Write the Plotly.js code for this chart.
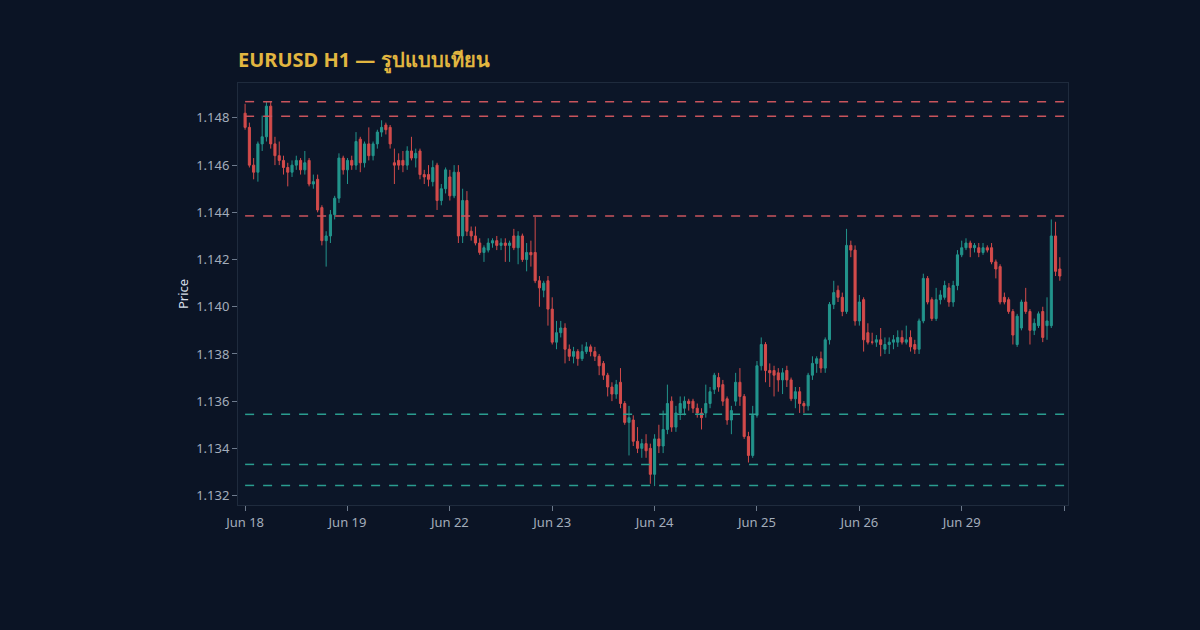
<!DOCTYPE html>
<html>
<head>
<meta charset="utf-8">
<script src="https://cdn.plot.ly/plotly-3.0.1.min.js"></script>
<style>
  html, body { margin: 0; padding: 0; background: #0b1424; }
  #chart { width: 1200px; height: 630px; }
</style>
</head>
<body>
<div id="chart"></div>
<script>
// trading days shown (weekend skipped), 24 hourly candles each
const days = ['2020-06-18', '2020-06-19', '2020-06-22', '2020-06-23', '2020-06-24', '2020-06-25', '2020-06-26', '2020-06-29'];
const dayLabels = ['Jun 18', 'Jun 19', 'Jun 22', 'Jun 23', 'Jun 24', 'Jun 25', 'Jun 26', 'Jun 29'];

// OHLC, one row per day
const open = [
    1.1482,1.1476,1.1460,1.1457,1.1469,1.1472,1.1485,1.1469,1.1464,1.1462,1.1459,1.1457,1.1460,1.1462,1.1458,1.1462,1.1452,1.1454,1.1442,1.1428,1.1430,1.1439,1.1446,1.1463,
    1.1458,1.1462,1.1460,1.1471,1.1461,1.1469,1.1464,1.1469,1.1474,1.1477,1.1476,1.1461,1.1462,1.1462,1.1460,1.1466,1.1463,1.1466,1.1456,1.1456,1.1453,1.1460,1.1445,1.1450,
    1.1455,1.1447,1.1457,1.1430,1.1445,1.1432,1.1430,1.1427,1.1423,1.1424,1.1427,1.1428,1.1426,1.1427,1.1426,1.1430,1.1425,1.1430,1.1420,1.1423,1.1423,1.1411,1.1407,1.1411,
    1.1399,1.1385,1.1389,1.1391,1.1382,1.1379,1.1381,1.1378,1.1381,1.1383,1.1381,1.1379,1.1376,1.1371,1.1366,1.1363,1.1368,1.1359,1.1351,1.1352,1.1343,1.1340,1.1342,1.1340,
    1.1329,1.1344,1.1341,1.1348,1.1360,1.1349,1.1355,1.1357,1.1360,1.1360,1.1357,1.1355,1.1355,1.1359,1.1365,1.1370,1.1367,1.1361,1.1352,1.1360,1.1368,1.1362,1.1345,1.1337,
    1.1354,1.1375,1.1384,1.1373,1.1373,1.1372,1.1369,1.1373,1.1369,1.1361,1.1364,1.1359,1.1358,1.1371,1.1376,1.1378,1.1374,1.1386,1.1401,1.1407,1.1404,1.1398,1.1426,1.1424,
    1.1394,1.1403,1.1389,1.1385,1.1385,1.1386,1.1382,1.1384,1.1385,1.1385,1.1387,1.1385,1.1387,1.1384,1.1382,1.1394,1.1412,1.1403,1.1395,1.1403,1.1404,1.1408,1.1402,1.1409,
    1.1422,1.1425,1.1427,1.1425,1.1425,1.1423,1.1425,1.1425,1.1419,1.1417,1.1404,1.1403,1.1398,1.1384,1.1391,1.1402,1.1398,1.1390,1.1392,1.1398,1.1392,1.1392,1.1430,1.1416
];
const high = [
    1.1486,1.1478,1.1463,1.1470,1.1481,1.1487,1.1487,1.1472,1.1470,1.1464,1.1461,1.1462,1.1464,1.1463,1.1466,1.1463,1.1456,1.1456,1.1443,1.1432,1.1441,1.1447,1.1465,1.1464,
    1.1463,1.1464,1.1474,1.1472,1.1470,1.1476,1.1470,1.1475,1.1479,1.1478,1.1477,1.1467,1.1465,1.1466,1.1468,1.1472,1.1467,1.1467,1.1458,1.1460,1.1462,1.1461,1.1452,1.1459,
    1.1458,1.1460,1.1460,1.1450,1.1449,1.1434,1.1434,1.1429,1.1426,1.1429,1.1429,1.1430,1.1429,1.1429,1.1428,1.1433,1.1432,1.1431,1.1427,1.1428,1.1438,1.1413,1.1411,1.1413,
    1.1404,1.1394,1.1394,1.1393,1.1384,1.1383,1.1382,1.1384,1.1385,1.1384,1.1383,1.1380,1.1377,1.1372,1.1368,1.1369,1.1374,1.1360,1.1358,1.1354,1.1349,1.1344,1.1346,1.1342,
    1.1346,1.1350,1.1356,1.1367,1.1362,1.1358,1.1362,1.1362,1.1361,1.1361,1.1359,1.1357,1.1367,1.1366,1.1372,1.1372,1.1369,1.1362,1.1358,1.1372,1.1374,1.1363,1.1347,1.1358,
    1.1377,1.1387,1.1385,1.1376,1.1375,1.1374,1.1374,1.1375,1.1370,1.1366,1.1366,1.1360,1.1372,1.1379,1.1379,1.1381,1.1387,1.1402,1.1411,1.1409,1.1406,1.1433,1.1428,1.1426,
    1.1405,1.1404,1.1393,1.1389,1.1388,1.1391,1.1387,1.1387,1.1388,1.1390,1.1390,1.1392,1.1390,1.1386,1.1395,1.1414,1.1413,1.1404,1.1408,1.1407,1.1411,1.1410,1.1411,1.1424,
    1.1428,1.1429,1.1428,1.1427,1.1427,1.1427,1.1426,1.1427,1.1420,1.1418,1.1406,1.1404,1.1399,1.1397,1.1403,1.1408,1.1399,1.1395,1.1398,1.1400,1.1404,1.1437,1.1436,1.1421
];
const low = [
    1.1475,1.1459,1.1454,1.1453,1.1466,1.1470,1.1467,1.1460,1.1460,1.1456,1.1451,1.1455,1.1458,1.1456,1.1456,1.1451,1.1450,1.1440,1.1426,1.1417,1.1427,1.1437,1.1444,1.1456,
    1.1452,1.1458,1.1458,1.1457,1.1459,1.1462,1.1462,1.1467,1.1472,1.1473,1.1467,1.1452,1.1458,1.1457,1.1458,1.1462,1.1459,1.1454,1.1452,1.1451,1.1451,1.1441,1.1443,1.1448,
    1.1445,1.1446,1.1427,1.1427,1.1430,1.1428,1.1426,1.1422,1.1419,1.1423,1.1425,1.1424,1.1424,1.1419,1.1419,1.1424,1.1418,1.1419,1.1415,1.1417,1.1410,1.1400,1.1404,1.1392,
    1.1384,1.1382,1.1387,1.1376,1.1377,1.1376,1.1375,1.1377,1.1380,1.1379,1.1377,1.1371,1.1369,1.1362,1.1360,1.1361,1.1357,1.1350,1.1337,1.1341,1.1338,1.1336,1.1336,1.1325,
    1.1324,1.1338,1.1338,1.1346,1.1347,1.1347,1.1352,1.1354,1.1356,1.1355,1.1353,1.1348,1.1353,1.1357,1.1363,1.1364,1.1358,1.1350,1.1346,1.1358,1.1358,1.1344,1.1334,1.1336,
    1.1353,1.1373,1.1368,1.1366,1.1362,1.1364,1.1363,1.1366,1.1360,1.1357,1.1355,1.1355,1.1356,1.1369,1.1372,1.1372,1.1372,1.1384,1.1399,1.1402,1.1396,1.1397,1.1421,1.1392,
    1.1392,1.1381,1.1384,1.1384,1.1383,1.1379,1.1380,1.1380,1.1382,1.1383,1.1384,1.1384,1.1381,1.1380,1.1380,1.1393,1.1401,1.1394,1.1394,1.1401,1.1403,1.1400,1.1400,1.1407,
    1.1421,1.1424,1.1421,1.1423,1.1421,1.1422,1.1423,1.1418,1.1412,1.1401,1.1401,1.1397,1.1384,1.1383,1.1390,1.1397,1.1384,1.1388,1.1391,1.1385,1.1386,1.1391,1.1413,1.1411
];
const close = [
    1.1476,1.1460,1.1457,1.1469,1.1472,1.1485,1.1469,1.1464,1.1462,1.1459,1.1457,1.1460,1.1462,1.1458,1.1461,1.1452,1.1453,1.1441,1.1428,1.1430,1.1439,1.1446,1.1463,1.1458,
    1.1462,1.1460,1.1470,1.1461,1.1469,1.1464,1.1469,1.1474,1.1476,1.1475,1.1469,1.1460,1.1460,1.1460,1.1466,1.1463,1.1465,1.1456,1.1455,1.1454,1.1459,1.1445,1.1450,1.1458,
    1.1447,1.1457,1.1430,1.1445,1.1432,1.1430,1.1427,1.1423,1.1425,1.1427,1.1428,1.1426,1.1427,1.1426,1.1427,1.1425,1.1430,1.1420,1.1423,1.1422,1.1411,1.1408,1.1410,1.1399,
    1.1385,1.1389,1.1391,1.1382,1.1379,1.1381,1.1378,1.1381,1.1383,1.1381,1.1379,1.1375,1.1371,1.1366,1.1363,1.1367,1.1359,1.1351,1.1353,1.1343,1.1340,1.1342,1.1339,1.1329,
    1.1344,1.1341,1.1348,1.1359,1.1349,1.1355,1.1359,1.1360,1.1359,1.1357,1.1355,1.1353,1.1359,1.1364,1.1371,1.1366,1.1360,1.1352,1.1356,1.1368,1.1362,1.1345,1.1337,1.1354,
    1.1375,1.1384,1.1373,1.1372,1.1371,1.1369,1.1372,1.1369,1.1361,1.1364,1.1359,1.1358,1.1371,1.1376,1.1378,1.1374,1.1386,1.1401,1.1406,1.1404,1.1398,1.1426,1.1424,1.1394,
    1.1402,1.1386,1.1385,1.1385,1.1386,1.1384,1.1384,1.1385,1.1386,1.1387,1.1385,1.1386,1.1383,1.1382,1.1394,1.1412,1.1402,1.1395,1.1403,1.1405,1.1409,1.1402,1.1409,1.1422,
    1.1425,1.1427,1.1425,1.1426,1.1423,1.1425,1.1424,1.1419,1.1416,1.1402,1.1402,1.1398,1.1388,1.1396,1.1402,1.1398,1.1390,1.1393,1.1397,1.1387,1.1394,1.1430,1.1415,1.1413
];

// key levels drawn as dashed lines
const resistance = [1.14869, 1.14807, 1.14385];
const support = [1.13544, 1.13332, 1.13243];

const COLORS = {
    up: '#26a69a',
    down: '#ef5350',
    res: '#c9545c',
    sup: '#2a9d8f',
    axis: '#1f2b3d',
    tick: '#a3adbb',
};

// hourly timestamps for each trading day
const times = [];
days.forEach(d => {
    for (let h = 0; h < 24; h++) times.push(`${d} ${String(h).padStart(2, '0')}:00`);
});

const levelShape = (y, color) => ({
    type: 'line', xref: 'x', yref: 'y',
    x0: times[0], x1: '2020-06-30 06:00', y0: y, y1: y,
    line: { color: color, width: 1.5, dash: 'dash' },
});

const trace = {
    type: 'candlestick',
    x: times, open: open, high: high, low: low, close: close,
    increasing: { line: { color: COLORS.up, width: 1 }, fillcolor: COLORS.up },
    decreasing: { line: { color: COLORS.down, width: 1 }, fillcolor: COLORS.down },
    opacity: 0.88,
    hoverinfo: 'skip',
};

const layout = {
    width: 1200, height: 630,
    paper_bgcolor: '#0b1425',
    plot_bgcolor: '#0c1628',
    font: { family: 'Noto Sans, DejaVu Sans, sans-serif', color: COLORS.tick, size: 13 },
    margin: { l: 238, r: 132, t: 83, b: 125 },
    showlegend: false,
    title: {
        text: 'EURUSD H1 — รูปแบบเทียน',
        font: { size: 20, color: '#e2b640', weight: 'bold' },
        x: 0, xref: 'paper', xanchor: 'left',
        y: 0.905, yref: 'container', yanchor: 'middle',
    },
    xaxis: {
        type: 'date',
        range: ['2020-06-17 22:20', '2020-06-30 00:55'],
        rangebreaks: [{ bounds: ['sat', 'mon'] }],
        rangeslider: { visible: false },
        tickvals: days.concat(['2020-06-30']),
        ticktext: dayLabels.concat(['']),
        showgrid: false, zeroline: false,
        showline: true, mirror: true, linecolor: COLORS.axis, linewidth: 1,
        ticks: 'outside', ticklen: 5, tickcolor: '#6d7a8c',
        tickfont: { color: COLORS.tick, size: 13 },
    },
    yaxis: {
        range: [1.1316, 1.14948],
        tick0: 1.132, dtick: 0.002, tickformat: '.3f',
        showgrid: false, zeroline: false,
        showline: true, mirror: true, linecolor: COLORS.axis, linewidth: 1,
        ticks: 'outside', ticklen: 5, tickcolor: '#6d7a8c',
        tickfont: { color: COLORS.tick, size: 13 },
        title: { text: 'Price', font: { color: '#d8dee8', size: 13 }, standoff: 4 },
    },
    shapes: resistance.map(y => levelShape(y, COLORS.res))
        .concat(support.map(y => levelShape(y, COLORS.sup))),
};

Plotly.newPlot('chart', [trace], layout, { displayModeBar: false, staticPlot: true });
</script>
</body>
</html>
